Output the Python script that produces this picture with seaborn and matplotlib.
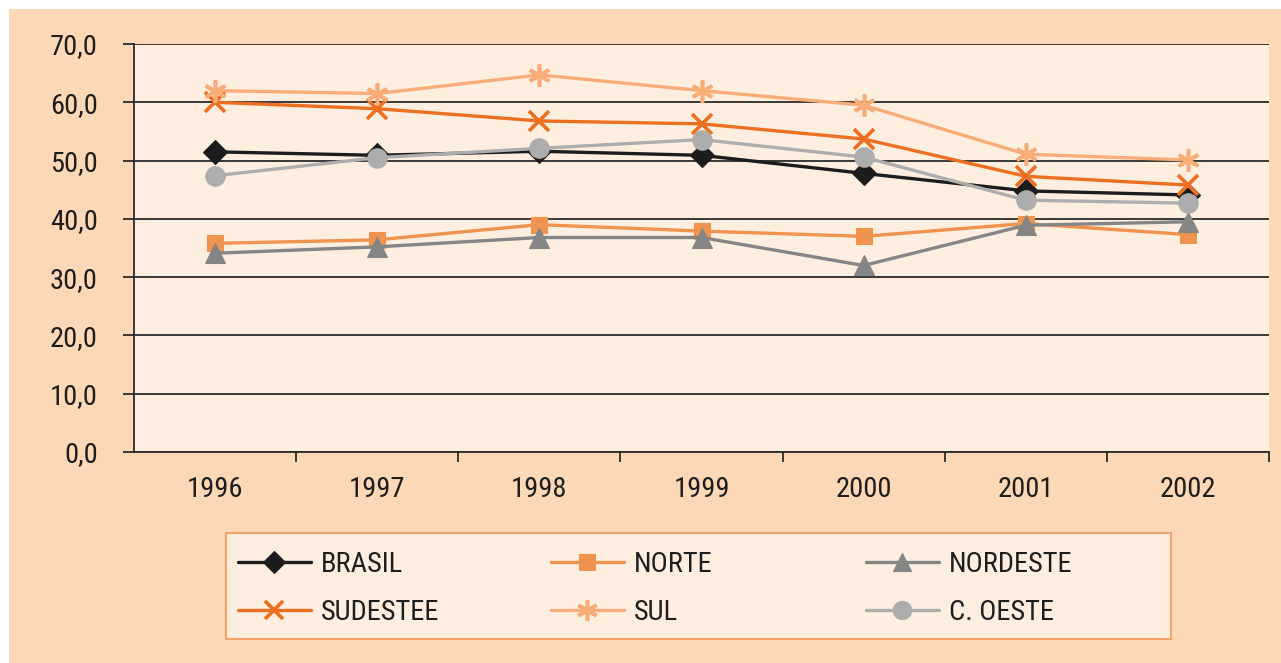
import matplotlib
matplotlib.use("Agg")
import matplotlib.pyplot as plt
import seaborn as sns
import pandas as pd
import numpy as np
from matplotlib.patches import Rectangle
from matplotlib.ticker import FixedLocator, FuncFormatter

years = ["1996", "1997", "1998", "1999", "2000", "2001", "2002"]
brasil = [51.5, 50.9, 51.6, 50.9, 47.8, 44.8, 44.1]
norte = [35.8, 36.4, 39.0, 37.9, 37.0, 39.2, 37.3]
nordeste = [34.1, 35.2, 36.8, 36.8, 32.0, 38.9, 39.5]
sudeste = [60.0, 58.9, 56.8, 56.3, 53.7, 47.3, 45.8]
sul = [62.0, 61.5, 64.7, 62.0, 59.5, 51.1, 50.1]
coeste = [47.4, 50.5, 52.1, 53.6, 50.6, 43.2, 42.7]

labels = ["BRASIL", "NORTE", "NORDESTE", "SUDESTEE", "SUL", "C. OESTE"]
series = [brasil, norte, nordeste, sudeste, sul, coeste]
colors = ["#1c1c1c", "#F0934E", "#858585", "#EC7020", "#F8AC78", "#ADADAD"]
markers = ["D", "s", "^", "x", (6, 2, 0), "o"]
msizes = [12, 12, 14, 14, 16, 14]

sns.set_theme(style="white")
plt.rcParams["font.family"] = ["Roboto Condensed", "Roboto", "DejaVu Sans"]
FS = 20.5

W, H = 1281, 663
fig = plt.figure(figsize=(W / 100, H / 100), dpi=100)
fig.patch.set_facecolor("white")
fig.patches.append(Rectangle((9 / W, 0), 1 - 9 / W, 1 - 9 / H, transform=fig.transFigure,
                             facecolor="#FCD8B6", edgecolor="none", zorder=-10))

ax = fig.add_axes([134 / W, 1 - 452 / H, (1269 - 134) / W, (452 - 44) / H])
ax.set_facecolor("#FEEEE0")

rows = []
for lab, vals in zip(labels, series):
    for y, v in zip(years, vals):
        rows.append({"year": y, "value": v, "region": lab})
df = pd.DataFrame(rows)
df["x"] = df["year"].map({y: i for i, y in enumerate(years)})

handles = {}
for lab, col, mk, ms in zip(labels, colors, markers, msizes):
    sub = df[df["region"] == lab]
    mew = 2.6 if mk in ("x",) or isinstance(mk, tuple) else 0.8
    sns.lineplot(data=sub, x="x", y="value", ax=ax, color=col, linewidth=2.4,
                 marker=mk, markersize=ms, markeredgewidth=mew,
                 markeredgecolor=col, markerfacecolor=col, label=lab, legend=False)
    handles[lab] = ax.lines[-1]

ax.set_xlim(-0.5, len(years) - 0.5)
ax.set_ylim(0, 70)
ax.set_yticks(np.arange(0, 71, 10))
ax.yaxis.set_major_formatter(FuncFormatter(lambda v, p: f"{v:.1f}".replace(".", ",")))
ax.set_xticks(range(len(years)))
ax.set_xticklabels(years)
ax.xaxis.set_minor_locator(FixedLocator(np.arange(0.5, len(years), 1.0)))
ax.grid(axis="y", color="#2b2b2b", linewidth=1.3)
ax.set_axisbelow(True)
ax.set_xlabel("")
ax.set_ylabel("")
for s in ["top", "right"]:
    ax.spines[s].set_visible(False)
for s in ["left", "bottom"]:
    ax.spines[s].set_visible(True)
    ax.spines[s].set_color("#2b2b2b")
    ax.spines[s].set_linewidth(1.3)
ax.tick_params(axis="y", which="major", left=True, length=8, width=1.3, color="#2b2b2b",
               labelsize=FS, labelcolor="#1e1e1e", pad=18)
ax.tick_params(axis="x", which="major", bottom=False, labelsize=FS, labelcolor="#1e1e1e", pad=11)
ax.tick_params(axis="x", which="minor", bottom=True, length=7, width=1.3, color="#2b2b2b")

# legend frame
fig.patches.append(Rectangle((226 / W, 1 - 639 / H), (1171 - 226) / W, (639 - 533) / H,
                             transform=fig.transFigure, facecolor="#FEEEE0",
                             edgecolor="#F3A46A", linewidth=1.5, zorder=1))

cols_x = [238, 551, 866]
col_pairs = [("BRASIL", "SUDESTEE"), ("NORTE", "SUL"), ("NORDESTE", "C. OESTE")]
for cx, pair in zip(cols_x, col_pairs):
    fig.legend([handles[p] for p in pair], list(pair), loc="upper left",
               bbox_to_anchor=(cx / W, 1 - 551 / H), frameon=False,
               fontsize=FS, handlelength=2.55, handletextpad=0.35,
               labelspacing=0.75, borderpad=0, borderaxespad=0,
               labelcolor="#1e1e1e", markerscale=0.95)

fig.savefig("out.png", dpi=100, facecolor=fig.get_facecolor())
